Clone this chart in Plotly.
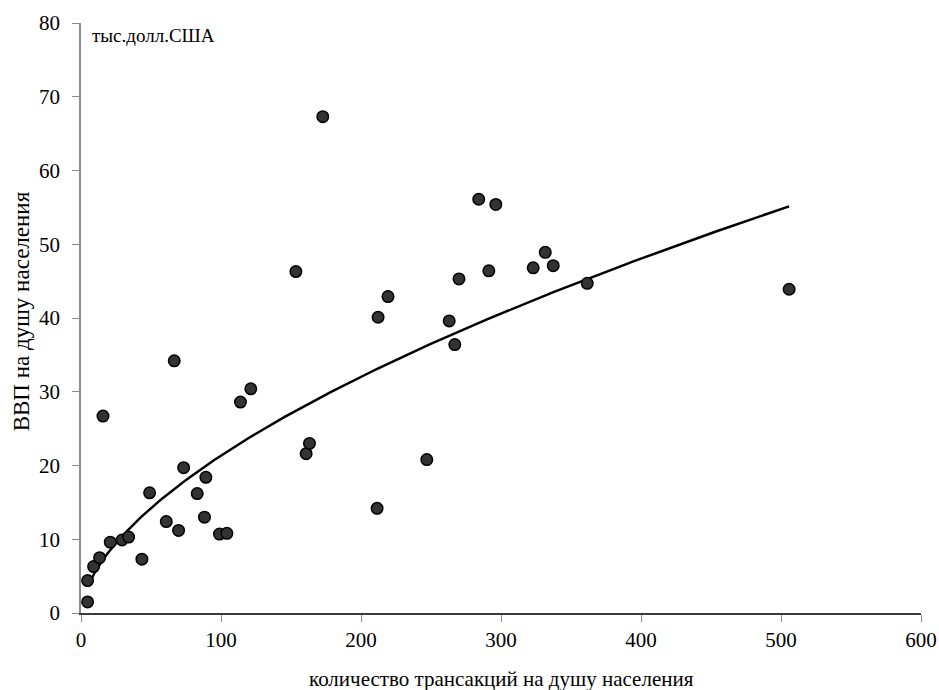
import numpy as np
import plotly.graph_objects as go

# Data
transactions = [4.7, 4.7, 9.0, 13.3, 20.9, 29.3, 34.0, 15.7, 43.5, 49.0, 60.9, 66.6, 69.7,
                73.3, 83.0, 89.2, 88.2, 98.9, 104.2, 113.9, 121.3, 153.5, 160.8, 163.2,
                172.7, 211.5, 212.2, 219.3, 247.0, 263.0, 267.0, 270.0, 284.1, 291.3,
                296.3, 323.0, 331.6, 337.3, 361.6, 505.8]
gdp = [1.5, 4.4, 6.3, 7.5, 9.6, 9.9, 10.3, 26.7, 7.3, 16.3, 12.4, 34.2, 11.2,
       19.7, 16.2, 18.4, 13.0, 10.7, 10.8, 28.6, 30.4, 46.3, 21.6, 23.0,
       67.3, 14.2, 40.1, 42.9, 20.8, 39.6, 36.4, 45.3, 56.1, 46.4,
       55.4, 46.8, 48.9, 47.1, 44.7, 43.9]

x_ticks = [0, 100, 200, 300, 400, 500, 600]
y_ticks = [0, 10, 20, 30, 40, 50, 60, 70, 80]

x_title = "количество трансакций на душу населения"
y_title = "ВВП на душу населения"
unit_label = "тыс.долл.США"

# Power trend line (least squares in log-log space, like a spreadsheet power trendline)
xa = np.array(transactions)
ya = np.array(gdp)
b, ln_a = np.polyfit(np.log(xa), np.log(ya), 1)
a = np.exp(ln_a)
trend_x = np.linspace(xa.min(), xa.max(), 300)
trend_y = a * trend_x ** b

W, H = 939, 690
L, R, T, B = 80.7, 17.7, 22.7, 76.7
pw = W - L - R
ph = H - T - B

font = "Liberation Serif"

fig = go.Figure()
fig.add_trace(go.Scatter(
    x=trend_x, y=trend_y, mode="lines",
    line=dict(color="black", width=2.5),
    hoverinfo="skip", showlegend=False))
fig.add_trace(go.Scatter(
    x=transactions, y=gdp, mode="markers",
    marker=dict(size=11.5, color="#333333", line=dict(color="black", width=1.5)),
    showlegend=False))

fig.update_layout(
    width=W, height=H,
    margin=dict(l=L, r=R, t=T, b=B, pad=0),
    paper_bgcolor="white", plot_bgcolor="white",
    font=dict(family=font, color="black"),
    xaxis=dict(range=[0, 600], tickvals=x_ticks, ticktext=[str(v) for v in x_ticks],
               automargin=False,
               showgrid=False, zeroline=False, showline=True, linecolor="#3a3a3a",
               linewidth=1.5, ticks="outside", ticklen=7, tickcolor="#888888",
               tickwidth=1, tickfont=dict(size=21, family=font), ticklabelstandoff=0),
    yaxis=dict(range=[0, 80], tickvals=y_ticks, ticktext=[str(v) for v in y_ticks],
               automargin=False,
               showgrid=False, zeroline=False, showline=True, linecolor="#8c8c8c",
               linewidth=1.5, ticks="outside", ticklen=7, tickcolor="#888888",
               tickwidth=1, tickfont=dict(size=21, family=font), ticklabelstandoff=8),
    annotations=[
        dict(text=unit_label, xref="paper", yref="paper",
             x=(90 - L) / pw, y=1 - (35 - T) / ph, xanchor="left", yanchor="middle",
             showarrow=False, font=dict(size=19, family=font, color="black")),
        dict(text=x_title, xref="paper", yref="paper",
             x=0.5, y=-(679 - (H - B)) / ph, xanchor="center", yanchor="middle",
             showarrow=False, font=dict(size=21, family=font, color="black")),
        dict(text=y_title, xref="paper", yref="paper", textangle=-90,
             x=(21 - L) / pw, y=1 - (311 - T) / ph, xanchor="center", yanchor="middle",
             showarrow=False, font=dict(size=23, family=font, color="black")),
    ],
)

fig.write_html(
    "out.html",
    config={"responsive": False, "displayModeBar": False},
    post_script="document.body.style.margin='0';document.body.style.overflow='hidden';",
)
